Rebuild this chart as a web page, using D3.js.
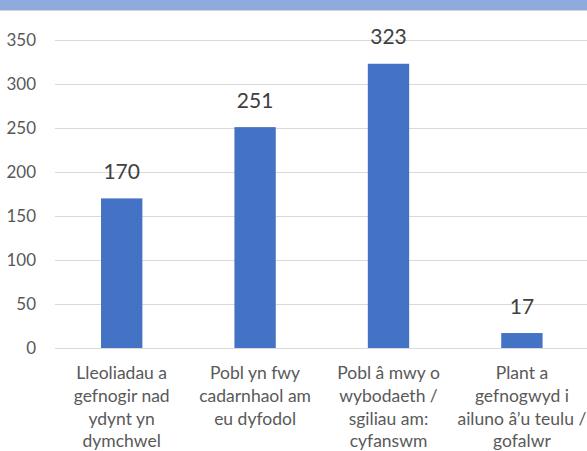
<!DOCTYPE html>
<html>
<head>
<meta charset="utf-8">
<script src="https://cdn.jsdelivr.net/npm/d3@7"></script>
<style>
  html, body { margin: 0; padding: 0; background: #fff; }
  svg { display: block; }
</style>
</head>
<body>
<svg id="chart" width="587" height="451"></svg>
<script>
const categories = [
  ["Lleoliadau a", "gefnogir nad", "ydynt yn", "dymchwel"],
  ["Pobl yn fwy", "cadarnhaol am", "eu dyfodol"],
  ["Pobl â mwy o", "wybodaeth /", "sgiliau am:", "cyfanswm"],
  ["Plant a", "gefnogwyd i", "ailuno â’u teulu /", "gofalwr"]
];
const values = [170, 251, 323, 17];
const yTicks = [0, 50, 100, 150, 200, 250, 300, 350];

(function () {
const svg = d3.select("#chart");
const W = 587, H = 451;
const mLeft = 55, mRight = 588.6, mTop = 40, mBottom = 348;
const font = "Lato, 'Open Sans', sans-serif";

// top band
svg.append("rect").attr("x", 0).attr("y", 0).attr("width", W).attr("height", 10).attr("fill", "#8FAADC");
svg.append("line").attr("x1", 0).attr("x2", W).attr("y1", 10.5).attr("y2", 10.5).attr("stroke", "#d0d4dc").attr("stroke-width", 1);

const idx = d3.range(values.length);
const x = d3.scaleBand().domain(idx).range([mLeft, mRight]).paddingInner(0.69).paddingOuter(0.345);
const y = d3.scaleLinear().domain([0, 350]).range([mBottom, mTop]);

// gridlines
svg.append("g").selectAll("line").data(yTicks).join("line")
  .attr("x1", mLeft).attr("x2", W)
  .attr("y1", d => Math.round(y(d)) + 0.5).attr("y2", d => Math.round(y(d)) + 0.5)
  .attr("stroke", "#d9d9d9").attr("stroke-width", 1);

// y axis labels
const yAxis = d3.axisLeft(y).tickValues(yTicks).tickSize(0).tickPadding(0);
const gy = svg.append("g").attr("transform", `translate(36,0)`).call(yAxis);
gy.select(".domain").remove();
gy.selectAll("text").attr("font-family", font).attr("font-size", 17).attr("fill", "#595959").attr("dy", "0.34em");

// bars
svg.append("g").selectAll("rect").data(values).join("rect")
  .attr("x", (d, i) => x(i)).attr("width", x.bandwidth())
  .attr("y", d => y(d)).attr("height", d => y(0) - y(d))
  .attr("fill", "#4472C4");

// data labels
svg.append("g").selectAll("text").data(values).join("text")
  .attr("x", (d, i) => x(i) + x.bandwidth() / 2)
  .attr("y", d => y(d) - 19.5)
  .attr("text-anchor", "middle")
  .attr("font-family", font).attr("font-size", 21).attr("fill", "#404040")
  .text(d => d);

// category labels
const cg = svg.append("g").selectAll("text").data(categories).join("text")
  .attr("text-anchor", "middle")
  .attr("font-family", font).attr("font-size", 17.5).attr("fill", "#595959");
cg.each(function(lines, i) {
  d3.select(this).selectAll("tspan").data(lines).join("tspan")
    .attr("x", x(i) + x.bandwidth() / 2)
    .attr("y", (l, j) => 379 + j * 22.8)
    .text(l => l);
});
})();
</script>
</body>
</html>
